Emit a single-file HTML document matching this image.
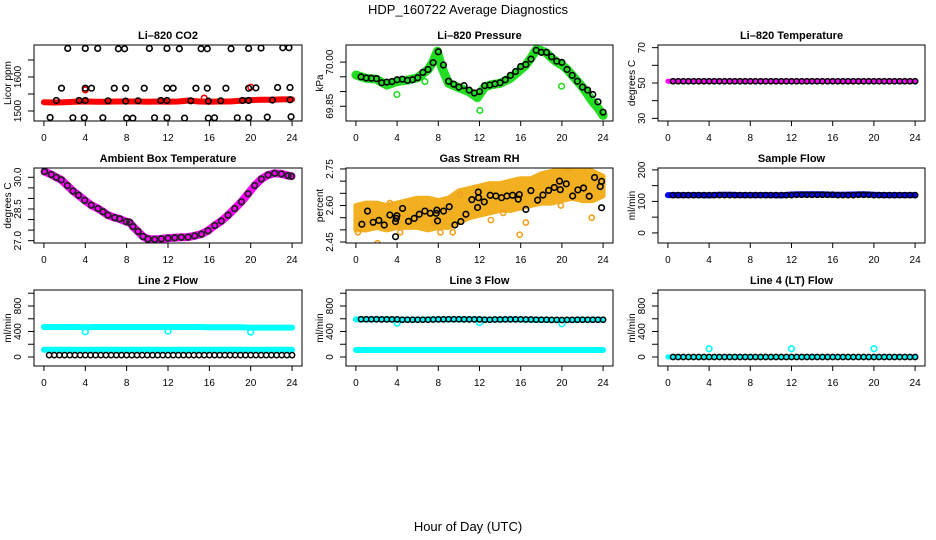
<!DOCTYPE html>
<html><head><meta charset="utf-8"><style>
html,body{margin:0;padding:0;background:#fff;}
svg{display:block;font-family:"Liberation Sans",Arial,sans-serif;}
</style></head><body>
<svg id="chart" width="936" height="540" viewBox="0 0 936 540" xmlns="http://www.w3.org/2000/svg">
<rect width="936" height="540" fill="#fff"/>
<text x="468" y="14" text-anchor="middle" font-size="13">HDP_160722  Average Diagnostics</text>
<text x="468" y="531" text-anchor="middle" font-size="13">Hour of Day (UTC)</text>
</svg>
<script>
// ---------- data ----------
const xTicks = [0,4,8,12,16,20,24];
const hourT = [0,1,2,3,4,5,6,7,8,9,10,11,12,13,14,15,16,17,18,19,20,21,22,23,24];
const halfT = [0.5,1,1.5,2,2.5,3,3.5,4,4.5,5,5.5,6,6.5,7,7.5,8,8.5,9,9.5,10,10.5,11,11.5,12,12.5,13,13.5,14,14.5,15,15.5,16,16.5,17,17.5,18,18.5,19,19.5,20,20.5,21,21.5,22,22.5,23,23.5,24];

// Li-820 CO2
const co2Red = [1526,1525,1526,1527,1528,1527,1527,1528,1528,1528,1527,1528,1527,1528,1531,1528,1527,1528,1528,1530,1532,1533,1533,1534,1534];
const co2RedOutT = [4.0,15.5,20.0];
const co2RedOutV = [1562,1538,1570];
const co2BlkT = [2.3,4.0,5.2,7.2,7.8,10.2,11.9,13.1,15.2,15.8,18.1,19.8,21.0,23.1,23.7,
  1.7,4.0,4.6,6.8,7.9,9.7,11.9,12.5,14.7,15.8,17.6,19.8,20.5,22.6,23.8,
  1.2,3.4,4.0,6.2,7.9,9.1,11.3,11.9,14.2,15.9,17.1,19.2,19.8,22.1,23.8,
  0.6,2.8,3.9,5.7,8.0,8.6,10.7,11.9,13.6,15.9,16.5,18.7,19.8,21.6,23.9];
const co2BlkV = [1684,1684,1684,1683,1683,1684,1684,1683,1683,1683,1683,1684,1685,1686,1686,
  1567,1567,1567,1567,1567,1567,1567,1567,1567,1567,1567,1567,1568,1569,1569,
  1531,1531,1531,1530,1529,1530,1531,1531,1530,1529,1530,1531,1531,1532,1533,
  1481,1480,1480,1480,1479,1479,1480,1480,1479,1479,1480,1480,1480,1482,1483];

// Li-820 Pressure
const presGrnT = [0,1,2,3,4,5,6,7,7.5,7.9,8.3,9,10,11,11.8,12.5,13,14,15,16,16.5,17,17.5,18,18.5,19,19.5,20,20.5,21,22,22.5,23,23.5,24];
const presGrnV = [69.956,69.945,69.942,69.922,69.934,69.939,69.947,69.974,70.002,70.037,69.985,69.928,69.913,69.899,69.879,69.915,69.922,69.928,69.945,69.974,69.990,70.014,70.042,70.039,70.031,70.014,70.000,69.990,69.975,69.955,69.915,69.890,69.865,69.844,69.819];
const presOutT = [3.98,6.7,12.04,19.97];
const presOutV = [69.890,69.934,69.836,69.918];
const presBlkV = [69.950,69.946,69.945,69.944,69.930,69.932,69.934,69.940,69.942,69.938,69.940,69.947,69.965,69.975,69.998,70.035,69.990,69.935,69.925,69.915,69.920,69.905,69.895,69.900,69.920,69.922,69.926,69.930,69.940,69.955,69.968,69.985,69.992,70.010,70.040,70.033,70.033,70.018,70.003,69.999,69.975,69.955,69.935,69.915,69.905,69.890,69.865,69.830];

// Li-820 Temperature
const tempMag = [51.0,51.0,51.0,51.1,51.0,51.0,51.0,51.1,51.0,51.0,51.0,51.0,51.1,51.0,51.0,51.0,51.0,51.0,51.0,51.0,51.0,51.0,51.0,51.0,51.0];
const tempBlk = [51.0,51.0,51.0,51.0,51.0,51.0,51.0,51.0,51.0,51.0,51.0,51.0,51.0,51.0,51.0,51.0,51.0,51.0,51.0,51.0,51.0,51.0,51.0,51.0,51.0,51.0,51.0,51.0,51.0,51.0,51.0,51.0,51.0,51.0,51.0,51.0,51.0,51.0,51.0,51.0,51.0,51.0,51.0,51.0,51.0,51.0,51.0,51.0];

// Ambient Box Temperature
const ambT = [0.06,0.71,1.19,1.68,2.26,2.81,3.35,3.94,4.58,5.23,5.71,6.19,6.84,7.32,7.97,8.29,8.61,9.10,9.58,10.06,10.71,11.35,12.00,12.65,13.29,13.94,14.58,15.23,15.87,16.52,17.16,17.81,18.45,19.10,19.74,20.39,21.03,21.68,22.32,22.97,23.61,23.94];
const ambV = [30.27,30.13,30.00,29.88,29.61,29.35,29.15,28.91,28.68,28.52,28.37,28.21,28.09,28.03,27.90,27.87,27.67,27.44,27.20,27.08,27.06,27.09,27.12,27.14,27.16,27.17,27.23,27.31,27.47,27.72,27.93,28.21,28.52,28.84,29.22,29.61,29.92,30.11,30.19,30.16,30.08,30.05];

// Gas Stream RH
const rhLow = [2.50,2.50,2.51,2.50,2.51,2.51,2.51,2.50,2.51,2.51,2.53,2.55,2.56,2.57,2.58,2.58,2.59,2.60,2.61,2.61,2.62,2.63,2.62,2.62,2.64];
const rhUp = [2.60,2.61,2.61,2.60,2.61,2.62,2.63,2.63,2.62,2.63,2.66,2.67,2.68,2.69,2.69,2.70,2.71,2.71,2.73,2.74,2.75,2.75,2.76,2.74,2.72];
const rhOutT = [0.2,2.1,4.3,7.6,8.2,10.1,11.9,13.1,15.9,16.5,19.9,20.6,22.9,14.3,3.3,9.4];
const rhOutV = [2.49,2.445,2.49,2.53,2.49,2.645,2.66,2.54,2.48,2.53,2.60,2.75,2.55,2.57,2.61,2.49];
const rhBlkT = [0.58,1.13,1.68,2.23,2.75,3.30,3.85,3.92,3.98,3.85,4.53,5.11,5.66,6.15,6.70,7.22,7.80,7.86,7.93,8.51,9.06,9.61,10.19,10.68,11.26,11.81,11.88,11.91,12.46,13.04,13.59,14.14,14.66,15.21,15.76,15.86,16.50,16.99,17.64,18.16,18.71,19.26,19.77,19.84,20.42,21.04,21.55,22.10,22.65,23.17,23.72,23.85,23.85];
const rhBlkV = [2.523,2.577,2.531,2.539,2.520,2.561,2.534,2.547,2.558,2.472,2.588,2.535,2.547,2.564,2.577,2.568,2.568,2.581,2.537,2.577,2.595,2.520,2.534,2.564,2.624,2.592,2.655,2.632,2.615,2.642,2.639,2.632,2.639,2.642,2.626,2.645,2.584,2.661,2.622,2.643,2.662,2.674,2.700,2.665,2.689,2.639,2.664,2.672,2.638,2.715,2.678,2.699,2.591];

// Sample Flow
const sfBlue = [120,120,120,120,119,121,121,120,120,120,120,119,122,123,123,123,121,121,122,123,121,120,120,120,120];
const sfBlk = [120,120,120,120,120,120,120,120,120,120,120,120,120,120,120,120,120,120,120,120,120,120,120,120,121,121,121,121,121,121,121,121,120,120,120,120,121,121,121,120,120,120,120,120,120,120,120,120];

// Line 2 Flow
const l2Hi = [470,470,470,470,468,470,470,470,470,470,470,470,470,470,470,470,468,468,468,466,462,462,462,462,462];
const l2Lo = [115,115,115,115,115,115,115,115,115,115,115,115,115,115,115,115,115,115,115,115,115,115,115,115,115];
const l2Blk = [30,30,30,30,30,30,30,30,30,30,30,30,30,30,30,30,30,30,30,30,30,30,30,30,30,30,30,30,30,30,30,30,30,30,30,30,30,30,30,30,30,30,30,30,30,30,30,30];
const dipT = [4,12,20];
const l2Dip = [395,405,390];

// Line 3 Flow
const l3Hi = [590,590,590,590,585,585,585,588,590,590,590,590,588,585,588,590,588,585,585,580,580,582,585,585,585];
const l3Lo = [110,110,110,110,110,110,110,110,110,110,110,110,110,110,110,110,110,110,110,110,110,110,110,110,110];
const l3Blk = [592,592,592,592,590,590,590,590,585,585,585,585,585,585,588,590,590,592,592,592,590,590,590,590,585,585,588,588,590,590,590,590,588,588,585,585,585,583,583,580,582,582,585,585,585,585,585,585];
const l3Dip = [530,540,520];

// Line 4 (LT) Flow
const l4Cyan = [0,0,0,0,0,0,0,0,0,0,0,0,0,0,0,0,0,0,0,0,0,0,0,0,0];
const l4Blk = [0,0,0,0,0,0,0,0,0,0,0,0,0,0,0,0,0,0,0,0,0,0,0,0,0,0,0,0,0,0,0,0,0,0,0,0,0,0,0,0,0,0,0,0,0,0,0,0];
const l4Spike = [130,130,130];

// ---------- drawing ----------
const NS = 'http://www.w3.org/2000/svg';
const svg = document.getElementById('chart');
const colL = [34,346,658], colR = [302,613,925];
const rowT = [45,168,290], rowB = [121,243,366];

function mk(tag, attrs, parent){
  const e = document.createElementNS(NS, tag);
  for (const k in attrs) e.setAttribute(k, attrs[k]);
  (parent||svg).appendChild(e);
  return e;
}

function panel(col,row,name,title,ylab,ymin,ymax,ticks,labels){
  const L=colL[col],R=colR[col],T=rowT[row],B=rowB[row];
  const g = mk('g',{});
  
  
  const sx = t => L + (t+0.96)/25.92*(R-L);
  const sy = v => B - (v-ymin)/(ymax-ymin)*(B-T);
  const tt = mk('text',{x:(L+R)/2,y:T-6,'text-anchor':'middle','font-size':11,'font-weight':'bold'},g);
  tt.textContent = title;
  
  
  const yl = mk('text',{x:0,y:0,'text-anchor':'middle','font-size':10,transform:`translate(${L-23},${(T+B)/2}) rotate(-90)`},g);
  yl.textContent = ylab;
  
  
  const xa = mk('g',{},g);
  
  
  xTicks.forEach(t=>{
    mk('line',{x1:sx(t),x2:sx(t),y1:B,y2:B+5,stroke:'#000','stroke-width':1},xa);
    const lb = mk('text',{x:sx(t),y:B+20,'text-anchor':'middle','font-size':10},xa);
    lb.textContent = t;
    
    
  });
  const ya = mk('g',{},g);
  
  
  ticks.forEach((v,i)=>{
    mk('line',{x1:L-6,x2:L,y1:sy(v),y2:sy(v),stroke:'#000','stroke-width':1},ya);
    if (labels[i]!==''){
      const lb = mk('text',{x:0,y:0,'text-anchor':'middle','font-size':10,transform:`translate(${L-13},${sy(v)}) rotate(-90)`},ya);
      lb.textContent = labels[i];
      
      
    }
  });
  const clipId='c'+col+row;
  const cp = mk('clipPath',{id:clipId},g);
  mk('rect',{x:L,y:T,width:R-L,height:B-T},cp);
  const plot = mk('g',{'clip-path':`url(#${clipId})`},g);
  
  
  const box = mk('rect',{x:L,y:T,width:R-L,height:B-T,fill:'none',stroke:'#000','stroke-width':1},g);
  
  
  return {sx,sy,plot};
}

function band(p,ts,vs,color,w,nm){
  const pts = ts.map((t,i)=>p.sx(t).toFixed(1)+','+p.sy(vs[i]).toFixed(1)).join(' ');
  const pl = mk('polyline',{points:pts,fill:'none',stroke:color,'stroke-width':w,'stroke-linejoin':'round','stroke-linecap':'round'},p.plot);
  
  
}
function dots(p,ts,vs,color,r,sw,nm){
  const g = mk('g',{},p.plot);
  
  
  ts.forEach((t,i)=>{
    const c = mk('circle',{cx:p.sx(t),cy:p.sy(vs[i]),r:r,fill:'none',stroke:color,'stroke-width':sw},g);
    
    
  });
}
function area(p,ts,lo,hi,color,nm){
  const up = ts.map((t,i)=>p.sx(t).toFixed(1)+','+p.sy(hi[i]).toFixed(1));
  const dn = ts.map((t,i)=>p.sx(t).toFixed(1)+','+p.sy(lo[i]).toFixed(1)).reverse();
  const pg = mk('polygon',{points:up.concat(dn).join(' '),fill:color,stroke:color,'stroke-width':5,'stroke-linejoin':'round'},p.plot);
  
  
}
const BK='#000', CY='#00ffff';

let p = panel(0,0,'co2','Li\u2013820 CO2','Licor ppm',1470.6,1694,[1500,1550,1600,1650],['1500','','1600','']);
band(p,hourT,co2Red,'#ff0000',6,'co2-red-series');
dots(p,co2RedOutT,co2RedOutV,'#ff0000',2.8,1.6,'co2-red-outliers');
dots(p,co2BlkT,co2BlkV,BK,2.8,1.6,'co2-black-points');

p = panel(1,0,'pressure','Li\u2013820 Pressure','kPa',69.80,70.058,[69.85,69.90,69.95,70.00],['69.85','','','70.00']);
band(p,presGrnT,presGrnV,'#22dd22',9,'pressure-green-series');
dots(p,presOutT,presOutV,'#22dd22',2.8,1.6,'pressure-green-outliers');
dots(p,halfT,presBlkV,BK,2.8,1.6,'pressure-black-points');

p = panel(2,0,'temperature','Li\u2013820 Temperature','degrees C',28.5,71.5,[30,40,50,60,70],['30','','50','','70']);
band(p,hourT,tempMag,'#ff00ff',5,'temperature-magenta-series');
dots(p,halfT,tempBlk,BK,2.6,1.6,'temperature-black-points');

p = panel(0,1,'ambient','Ambient Box Temperature','degrees C',26.89,30.44,[27.0,27.5,28.0,28.5,29.0,29.5,30.0],['27.0','','','28.5','','','30.0']);
band(p,ambT,ambV,'#ff00ff',8,'ambient-magenta-series');
dots(p,ambT,ambV,'#222',2.8,1.8,'ambient-black-points');

p = panel(1,1,'rh','Gas Stream RH','percent',2.446,2.754,[2.45,2.50,2.55,2.60,2.65,2.70,2.75],['2.45','','','2.60','','','2.75']);
area(p,hourT,rhLow,rhUp,'#f2b020','rh-orange-band');
dots(p,rhOutT,rhOutV,'#f2a020',2.6,1.6,'rh-orange-outliers');
dots(p,rhBlkT,rhBlkV,BK,2.8,1.6,'rh-black-points');

p = panel(2,1,'sample-flow','Sample Flow','ml/min',-32,206,[0,50,100,150,200],['0','','100','','200']);
band(p,hourT,sfBlue,'#0000ff',6,'sample-flow-blue-series');
dots(p,halfT,sfBlk,BK,2.6,1.6,'sample-flow-black-points');

p = panel(0,2,'line2','Line 2 Flow','ml/min',-141,1051,[0,200,400,600,800,1000],['0','','400','','800','']);
band(p,hourT,l2Hi,CY,6,'line2-cyan-high');
band(p,hourT,l2Lo,CY,6,'line2-cyan-low');
dots(p,dipT,l2Dip,CY,2.8,1.6,'line2-cyan-dips');
dots(p,halfT,l2Blk,BK,2.6,1.5,'line2-black-points');

p = panel(1,2,'line3','Line 3 Flow','ml/min',-141,1051,[0,200,400,600,800,1000],['0','','400','','800','']);
band(p,hourT,l3Hi,CY,6,'line3-cyan-high');
band(p,hourT,l3Lo,CY,6,'line3-cyan-low');
dots(p,dipT,l3Dip,CY,2.8,1.6,'line3-cyan-dips');
dots(p,halfT,l3Blk,BK,2.6,1.5,'line3-black-points');

p = panel(2,2,'line4','Line 4 (LT) Flow','ml/min',-141,1051,[0,200,400,600,800,1000],['0','','400','','800','']);
band(p,hourT,l4Cyan,CY,5,'line4-cyan-series');
dots(p,dipT,l4Spike,CY,2.8,1.6,'line4-cyan-spikes');
dots(p,halfT,l4Blk,BK,2.6,1.5,'line4-black-points');
</script>
</body></html>
